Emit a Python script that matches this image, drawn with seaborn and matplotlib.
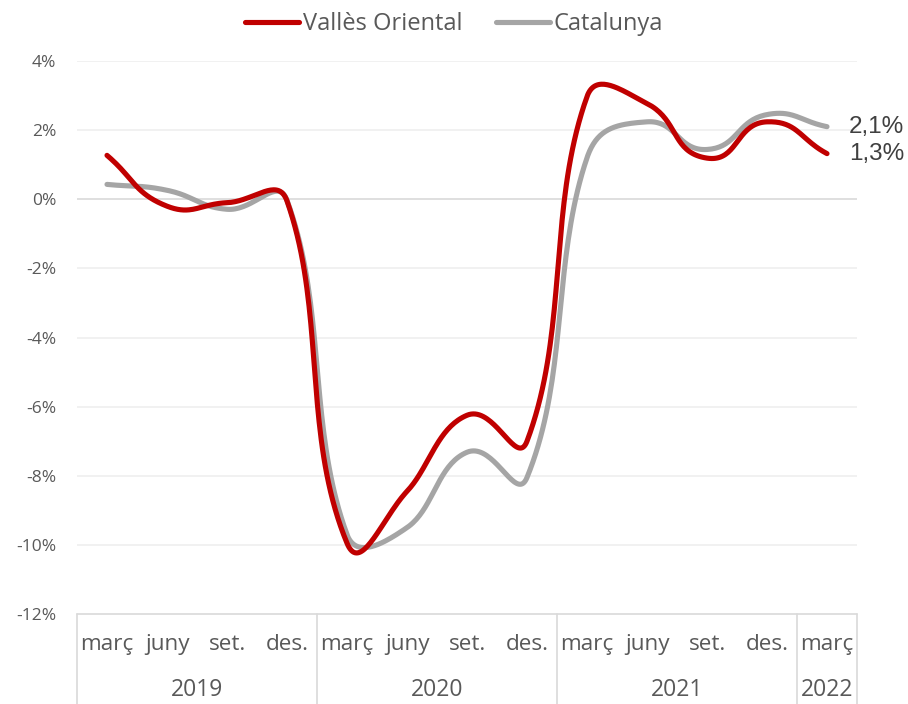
import numpy as np
import matplotlib
matplotlib.use("Agg")
import matplotlib.pyplot as plt
import matplotlib.transforms as mtransforms
from matplotlib.lines import Line2D
import seaborn as sns

# quarterly data (% change)
months = ["març", "juny", "set.", "des.", "març", "juny", "set.", "des.",
          "març", "juny", "set.", "des.", "març"]
years = ["2019", "2020", "2021", "2022"]
year_sizes = [4, 4, 4, 1]
valles = [1.27, -0.2, -0.1, -0.05, -9.95, -8.45, -6.25, -7.0,
          2.97, 2.77, 1.19, 2.24, 1.32]
catalunya = [0.43, 0.26, -0.29, -0.03, -9.7, -9.5, -7.32, -8.05,
             1.2, 2.24, 1.44, 2.45, 2.1]
end_labels = ["1,3%", "2,1%"]

red = "#C00000"
grey = "#A5A5A5"
txt = "#595959"


def smooth(xs, ys, k_short=0.45, k_long=0.34, aspect=0.575, n=40):
    # bezier smoothing like spreadsheet "smoothed line"
    P = np.column_stack([np.asarray(xs, float), np.asarray(ys, float) * aspect])
    pts = []
    for i in range(len(P) - 1):
        p0, p1 = P[i], P[i + 1]
        prev = P[i - 1] if i > 0 else P[i]
        nxt = P[i + 2] if i + 2 < len(P) else P[i + 1]
        seg = np.linalg.norm(p1 - p0)
        k = k_short if seg < 1.5 else k_long
        t0 = (p1 - prev) / np.linalg.norm(p1 - prev)
        t1 = (nxt - p0) / np.linalg.norm(nxt - p0)
        c1 = p0 + t0 * seg * k
        c2 = p1 - t1 * seg * k
        t = np.linspace(0, 1, n)[:, None]
        b = ((1 - t) ** 3) * p0 + 3 * ((1 - t) ** 2) * t * c1 + 3 * (1 - t) * t ** 2 * c2 + t ** 3 * p1
        pts.append(b if i == 0 else b[1:])
    pts = np.vstack(pts)
    return pts[:, 0], pts[:, 1] / aspect


sns.set_theme(style="white")
plt.rcParams["font.family"] = ["Open Sans", "DejaVu Sans"]

fig = plt.figure(figsize=(9.08, 7.04), dpi=100)
ax = fig.add_axes([77 / 908, 1 - 614 / 704, 780 / 908, 553 / 704])

x = np.arange(len(months))
for vals, col in [(catalunya, grey), (valles, red)]:
    sx, sy = smooth(x, vals)
    sns.lineplot(x=sx, y=sy, ax=ax, color=col, linewidth=3.7, sort=False,
                 estimator=None, solid_capstyle="round", zorder=3)
ax.set_xlim(-0.5, len(months) - 0.5)
ax.set_ylim(-12, 4)
yt = np.arange(-12, 5, 2)
ax.set_yticks(yt)
ax.set_yticklabels([f"{v}%" for v in yt], color=txt, fontsize=12.5)
ax.tick_params(axis="y", length=0, pad=15)
ax.set_xticks([])
for v in yt:
    if v == -12:
        continue
    ax.axhline(v, color="#D9D9D9" if v == 0 else "#EFEFEF", lw=1.2, zorder=1)
for s in ax.spines.values():
    s.set_visible(False)

# category axis
tr = mtransforms.blended_transform_factory(ax.transData, ax.transAxes)
for i, m in enumerate(months):
    ax.text(i, -0.056, m, transform=tr, ha="center", va="center",
            fontsize=16.2, color=txt)
edges = np.concatenate([[0], np.cumsum(year_sizes)]) - 0.5
for e in edges:
    ax.plot([e, e], [0, -0.17], transform=tr, color="#D9D9D9", lw=1.2, clip_on=False)
ax.plot([edges[0], edges[-1]], [0, 0], transform=tr, color="#D9D9D9", lw=1.2, clip_on=False)
for yl, a, b in zip(years, edges[:-1], edges[1:]):
    ax.text((a + b) / 2, -0.138, yl, transform=tr, ha="center", va="center",
            fontsize=16.5, color=txt)

# end labels
for vals, lab in [(valles, end_labels[0]), (catalunya, end_labels[1])]:
    ax.annotate(lab, (x[-1], vals[-1]), xytext=(16, 0), textcoords="offset points",
                va="center", ha="left", fontsize=17.5, color="#404040",
                family=["Liberation Sans", "DejaVu Sans"], annotation_clip=False)

handles = [Line2D([], [], color=red, lw=3.7, solid_capstyle="round"),
           Line2D([], [], color=grey, lw=3.7, solid_capstyle="round")]
fig.legend(handles, ["Vallès Oriental", "Catalunya"], loc="center",
           bbox_to_anchor=(0.5, 1 - 24 / 704), ncol=2, frameon=False,
           fontsize=17, handlelength=2.3, handletextpad=0.15, columnspacing=1.4,
           labelcolor=txt)

fig.savefig("out.png", dpi=100)
